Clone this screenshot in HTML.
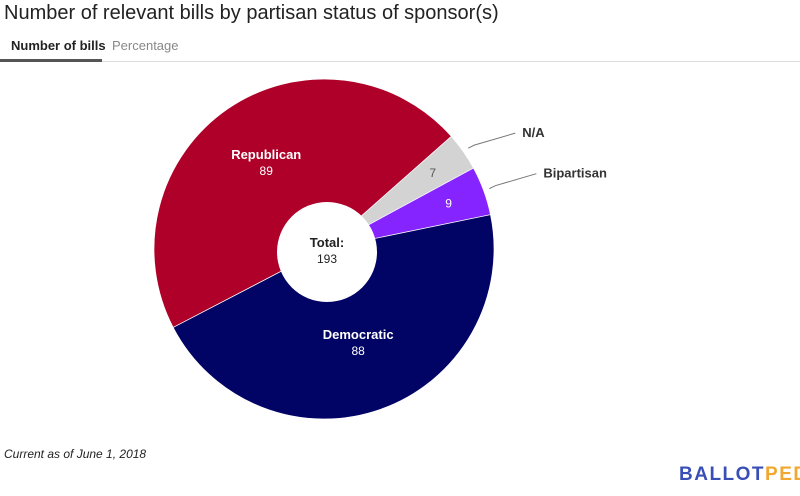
<!DOCTYPE html>
<html><head><meta charset="utf-8"><style>
body{margin:0;width:800px;height:496px;background:#fff;font-family:"Liberation Sans",Arial,sans-serif;overflow:hidden;position:relative}
.t{position:absolute;white-space:nowrap}
</style></head><body>
<div class="t" style="left:4px;top:2px;font-size:20px;color:#222">Number of relevant bills by partisan status of sponsor(s)</div>
<div class="t" style="left:11px;top:38px;font-size:13px;font-weight:bold;color:#222">Number of bills</div>
<div class="t" style="left:112px;top:38px;font-size:13px;color:#888">Percentage</div>
<div style="position:absolute;left:0;top:61px;width:800px;height:1px;background:#ddd"></div>
<div style="position:absolute;left:0;top:59px;width:102px;height:3px;background:#555"></div>
<svg id="pie" width="800" height="496" style="position:absolute;left:0;top:0"></svg>
<div class="t" style="left:4px;top:447px;font-size:12px;font-style:italic;color:#222">Current as of June 1, 2018</div>
<div class="t" style="left:679px;top:464px;font-size:19px;font-weight:bold;letter-spacing:1.5px"><span style="color:#3a4fb5">BALLOT</span><span style="color:#f2a72f">PEDIA</span></div>
<script>
const categories=["Republican","N/A","Bipartisan","Democratic"];
const values=[89,7,9,88];
const colors=["#ae0028","#d3d3d3","#8524ff","#020465"];
const svg=document.getElementById('pie');
const NS="http://www.w3.org/2000/svg";
const cx=324,cy=249,r=170,start=-117.5;
const total=values.reduce((a,b)=>a+b,0);
function pt(deg,rad){const a=deg*Math.PI/180;return [cx+rad*Math.sin(a),cy-rad*Math.cos(a)];}
function txt(x,y,s,opt){const t=document.createElementNS(NS,'text');t.setAttribute('x',x);t.setAttribute('y',y);t.setAttribute('font-size',opt.size||12);t.setAttribute('fill',opt.fill||'#fff');t.setAttribute('text-anchor',opt.anchor||'middle');if(opt.bold)t.setAttribute('font-weight','bold');t.setAttribute('font-family','Liberation Sans, Arial, sans-serif');t.textContent=s;svg.appendChild(t);return t;}
let ang=start;
values.forEach((v,i)=>{
  const sweep=v/total*360;const a0=ang,a1=ang+sweep;ang=a1;
  const p0=pt(a0,r),p1=pt(a1,r);
  const p=document.createElementNS(NS,'path');
  p.setAttribute('d',`M${cx},${cy}L${p0[0]},${p0[1]}A${r},${r} 0 ${sweep>180?1:0} 1 ${p1[0]},${p1[1]}Z`);
  p.setAttribute('fill',colors[i]);p.setAttribute('stroke','#fff');p.setAttribute('stroke-width','0.7');
  
  
  svg.appendChild(p);
  const mid=(a0+a1)/2;
  if(sweep>40){
    const c=pt(mid,r*0.6);
    const l=txt(c[0],c[1]-6,categories[i],{size:13,bold:true});
    
    
    const n=txt(c[0],c[1]+10,String(v),{size:12});
    
    
  } else {
    const c=pt(mid,r*0.78);
    const n=txt(c[0],c[1]+4,String(v),{size:12,fill:i==1?'#555':'#fff'});
    
    
    const q=pt(mid,r+6),e=[q[0]+32,q[1]-12];
    const ln=document.createElementNS(NS,'polyline');
    ln.setAttribute('points',`${q[0]},${q[1]} ${q[0]+6},${q[1]-3} ${e[0]+15},${e[1]-3}`);
    ln.setAttribute('fill','none');ln.setAttribute('stroke','#777');ln.setAttribute('stroke-width','1');
    
    
    svg.appendChild(ln);
    const o=txt(e[0]+22,e[1]+1,categories[i],{size:13,bold:true,fill:'#333',anchor:'start'});
    
    
  }
});
const hole=document.createElementNS(NS,'circle');
hole.setAttribute('cx',327);hole.setAttribute('cy',252);hole.setAttribute('r',50);hole.setAttribute('fill','#fff');


svg.appendChild(hole);
const tl=txt(327,247,'Total:',{size:13,bold:true,fill:'#222'});


const tv=txt(327,263,String(total),{size:12,fill:'#222'});


</script>
</body></html>
